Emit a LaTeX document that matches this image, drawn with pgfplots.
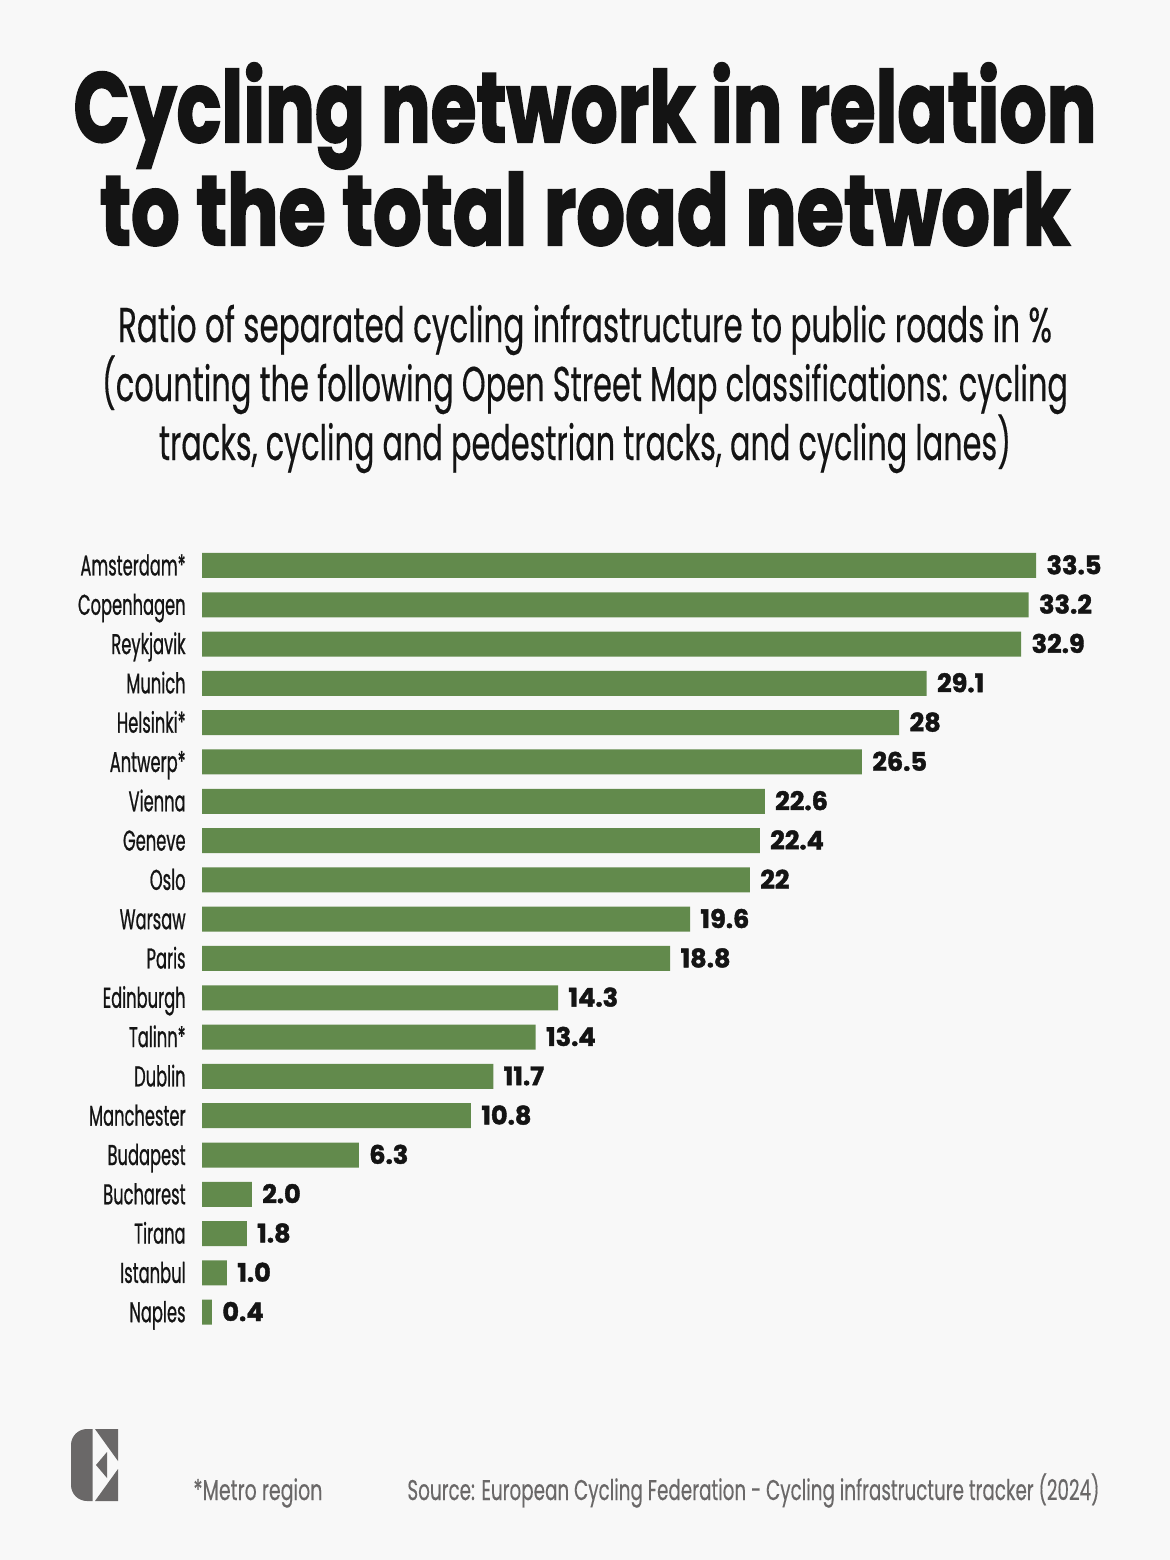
\documentclass[border=0pt]{standalone}
\usepackage{fontspec}
\usepackage{graphicx}
\usepackage{pgfplots}
\pgfplotsset{compat=1.18}
\usepackage{pgfplotstable}

\setmainfont{Poppins}[FakeBold=0.4]
\newfontfamily\titlefont[BoldFeatures={FakeBold=2.2}]{Poppins}
\newfontfamily\labelfont[FakeStretch=0.57, FakeBold=0.7]{Poppins}
\newfontfamily\valuefont[BoldFeatures={FakeBold=1.6}]{Poppins}

\definecolor{bg}{HTML}{F8F8F8}
\definecolor{barfill}{HTML}{628A4C}
\definecolor{ink}{HTML}{141414}
\definecolor{foot}{HTML}{6A6868}

% share of separated cycling infrastructure, % of public road length
\pgfplotstableread{
i v lab
0 33.5 33.5
1 33.2 33.2
2 32.9 32.9
3 29.1 29.1
4 28 28
5 26.5 26.5
6 22.6 22.6
7 22.4 22.4
8 22 22
9 19.6 19.6
10 18.8 18.8
11 14.3 14.3
12 13.4 13.4
13 11.7 11.7
14 10.8 10.8
15 6.3 6.3
16 2.0 2.0
17 1.8 1.8
18 1.0 1.0
19 0.4 0.4
}\cities

\begin{document}
\begin{tikzpicture}[x=0.5bp, y=-0.5bp]
  % page background
  \fill[bg] (0,0) rectangle (1170,1560);

  % title
  \node[anchor=base, text=ink, inner sep=0pt] at (585,142)
    {\resizebox{511.5bp}{\height}{\titlefont\bfseries\fontsize{49.4bp}{50bp}\selectfont Cycling network in relation}};
  \node[anchor=base, text=ink, inner sep=0pt] at (585,245)
    {\resizebox{485bp}{\height}{\titlefont\bfseries\fontsize{49.4bp}{50bp}\selectfont to the total road network}};

  % subtitle
  \node[anchor=base, text=ink, inner sep=0pt] at (585,342)
    {\resizebox{467bp}{\height}{\fontsize{24.4bp}{26bp}\selectfont Ratio of separated cycling infrastructure to public roads in \%}};
  \node[anchor=base, text=ink, inner sep=0pt] at (585,401)
    {\resizebox{483bp}{\height}{\fontsize{24.4bp}{26bp}\selectfont (counting the following Open Street Map classifications: cycling}};
  \node[anchor=base, text=ink, inner sep=0pt] at (585,460)
    {\resizebox{426bp}{\height}{\fontsize{24.4bp}{26bp}\selectfont tracks, cycling and pedestrian tracks, and cycling lanes)}};

  \begin{axis}[
    at={(101bp,-272.9bp)}, anchor=north west,
    scale only axis, width=473.1bp, height=393bp,
    xmin=0, xmax=38, ymin=-0.5, ymax=19.5, y dir=reverse,
    xbar, bar width=12.5bp, bar shift=0pt,
    axis line style={draw=none},
    xtick=\empty, ytick={0,...,19},
    yticklabels={Amsterdam*, Copenhagen, Reykjavik, Munich, Helsinki*, Antwerp*,
      Vienna, Geneve, Oslo, Warsaw, Paris, Edinburgh, Talinn*, Dublin,
      Manchester, Budapest, Bucharest, Tirana, Istanbul, Naples},
    major tick length=0pt,
    yticklabel style={font=\labelfont\fontsize{14.3bp}{16bp}\selectfont, text=ink,
      anchor=base east, inner sep=0pt, xshift=-8bp, yshift=-5bp},
    nodes near coords, point meta=explicit symbolic,
    nodes near coords style={font=\valuefont\bfseries\fontsize{12.8bp}{14bp}\selectfont,
      text=ink, anchor=base west, inner sep=0pt, xshift=5bp, yshift=-4.4bp},
    clip=false,
  ]
    \addplot[fill=barfill, draw=none] table[x=v, y=i, meta=lab] {\cities};
  \end{axis}

  % logo
  \fill[foot] (92.7,1429) [rounded corners=8bp] -- (71,1429) -- (71,1501) [sharp corners] -- (92.7,1501) -- cycle;
  \fill[foot] (95,1429) -- (118,1429) -- (118,1461) -- cycle;
  \fill[foot] (95,1501) -- (118,1501) -- (118,1469) -- cycle;
  \fill[foot] (96,1465) -- (107,1452) -- (107,1478) -- cycle;

  % footer
  \node[anchor=base west, text=foot, inner sep=0pt] at (193,1500)
    {\resizebox{64.5bp}{\height}{\fontsize{14.3bp}{16bp}\selectfont *Metro region}};
  \node[anchor=base west, text=foot, inner sep=0pt] at (407,1500)
    {\resizebox{346bp}{\height}{\fontsize{14.3bp}{16bp}\selectfont Source: European Cycling Federation - Cycling infrastructure tracker (2024)}};
\end{tikzpicture}
\end{document}
